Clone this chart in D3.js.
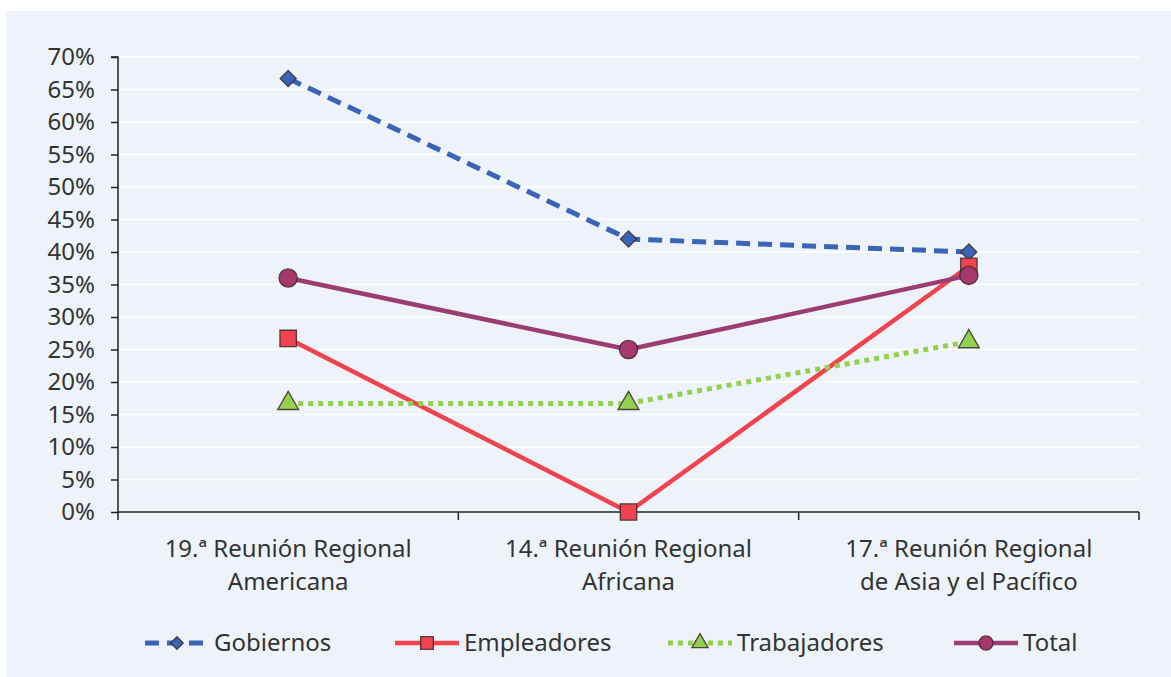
<!DOCTYPE html>
<html><head><meta charset="utf-8">
<script src="https://cdn.jsdelivr.net/npm/d3@7"></script>
<style>
html,body{margin:0;padding:0;background:#fff;}
svg{display:block;font-family:"Noto Sans","Open Sans",sans-serif;}
</style></head>
<body>
<svg id="c" width="1171" height="677"></svg>
<script>
const categories = [["19.ª Reunión Regional","Americana"],["14.ª Reunión Regional","Africana"],["17.ª Reunión Regional","de Asia y el Pacífico"]];
const seriesNames = ["Gobiernos","Empleadores","Trabajadores","Total"];
const gobiernos = [66.7, 42.0, 40.0];
const empleadores = [26.7, 0.0, 37.8];
const trabajadores = [16.7, 16.7, 26.2];
const total = [36.0, 25.0, 36.4];
const yTicks = [0,5,10,15,20,25,30,35,40,45,50,55,60,65,70];

const seriesData = [gobiernos, empleadores, trabajadores, total];
const styles = [
  {color:"#3a64b5", dash:"14,8", width:5, marker:"diamond", fill:"#3a64b5"},
  {color:"#f0424f", dash:null, width:4.5, marker:"square", fill:"#f0424f"},
  {color:"#92d050", dash:"5,5", width:5, marker:"triangle", fill:"#92d050"},
  {color:"#9b3c72", dash:null, width:4.5, marker:"circle", fill:"#a6386e"}
];

const svg = d3.select("#c");
svg.append("rect").attr("x",6).attr("y",11).attr("width",1165).attr("height",666).attr("fill","#eef3fa");

const pL=118, pR=1139, pT=57, pB=512;
const x = d3.scaleBand().domain(d3.range(categories.length)).range([pL,pR]);
const y = d3.scaleLinear().domain([0,70]).range([pB,pT]);

// grid
svg.append("g").selectAll("line").data(yTicks.slice(1)).join("line")
  .attr("x1",pL).attr("x2",pR).attr("y1",d=>y(d)).attr("y2",d=>y(d))
  .attr("stroke","#ffffff").attr("stroke-width",1.5);

// y axis
const ya = svg.append("g").attr("transform",`translate(${pL},0)`)
  .call(d3.axisLeft(y).tickValues(yTicks).tickFormat(d=>d+"%").tickSize(7).tickPadding(16));
ya.select(".domain").attr("stroke","#222").attr("stroke-width",1.5).attr("d",`M-7,${pT}H0V${pB}`);
ya.selectAll(".tick line").attr("stroke","#222").attr("stroke-width",1.5);
ya.selectAll(".tick text").attr("font-size",24).attr("fill","#333").attr("font-family","'Noto Sans','Open Sans',sans-serif");

// x axis
const xa = svg.append("g").attr("transform",`translate(0,${pB})`);
xa.append("line").attr("x1",pL).attr("x2",pR).attr("stroke","#222").attr("stroke-width",1.5);
const bounds = d3.range(categories.length+1).map(i=> i<categories.length ? x(i) : x(categories.length-1)+x.bandwidth());
xa.selectAll(".xt").data(bounds).join("line").attr("class","xt")
  .attr("x1",d=>d).attr("x2",d=>d).attr("y1",0).attr("y2",8).attr("stroke","#222").attr("stroke-width",1.5);
const xl = xa.selectAll(".xl").data(categories).join("text").attr("class","xl")
  .attr("x",(d,i)=>x(i)+x.bandwidth()/2).attr("y",45)
  .attr("text-anchor","middle").attr("font-size",24).attr("fill","#333");
xl.each(function(d){
  const t=d3.select(this);
  d.forEach((line,j)=>t.append("tspan").attr("x",t.attr("x")).attr("dy",j===0?0:33).text(line));
});

function drawMarker(g, type, cx, cy, fill, sc){
  sc = sc || 1;
  let p;
  if(type==="diamond"){ p = d3.symbol(d3.symbolSquare,130*sc)(); }
  else if(type==="square"){ p = d3.symbol(d3.symbolSquare,270*sc)(); }
  else if(type==="triangle"){ p = d3.symbol(d3.symbolTriangle,190*sc)(); }
  else { p = d3.symbol(d3.symbolCircle,260*sc)(); }
  g.append("path").attr("d",p)
    .attr("transform",`translate(${cx},${cy})${type==="diamond"?" rotate(45)":""}`)
    .attr("fill",fill).attr("stroke","#3a2a2a").attr("stroke-width",1.3).attr("stroke-opacity",0.85);
}

const line = d3.line().x((d,i)=>x(i)+x.bandwidth()/2).y(d=>y(d));
seriesData.forEach((data,k)=>{
  const st=styles[k];
  const g=svg.append("g");
  g.append("path").datum(data).attr("d",line).attr("fill","none")
    .attr("stroke",st.color).attr("stroke-width",st.width)
    .attr("stroke-dasharray",st.dash).attr("stroke-linecap","butt").attr("stroke-linejoin","round");
  data.forEach((v,i)=>drawMarker(g, st.marker, x(i)+x.bandwidth()/2, y(v), st.fill));
});

// legend
const legendX = [145, 395, 668, 954];
const ly = 643;
seriesNames.forEach((name,k)=>{
  const st=styles[k];
  const g=svg.append("g").attr("transform",`translate(${legendX[k]},${ly})`);
  g.append("line").attr("x1",0).attr("x2",64).attr("y1",0).attr("y2",0)
    .attr("stroke",st.color).attr("stroke-width",st.width)
    .attr("stroke-dasharray", k===0?"14,8": k===2?"5,5":null);
  drawMarker(g, st.marker, 32, 0, st.fill, 0.6);
  g.append("text").attr("x",69).attr("y",8).attr("font-size",24).attr("fill","#333").text(name);
});
</script>
</body></html>
